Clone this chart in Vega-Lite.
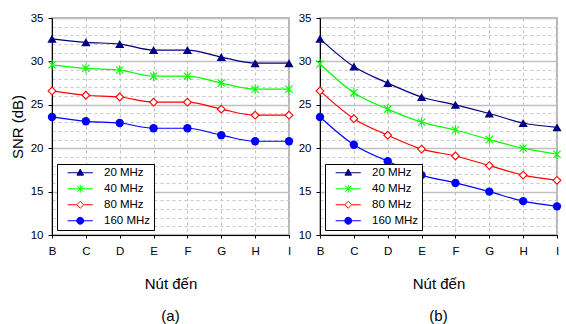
{
  "$schema": "https://vega.github.io/schema/vega-lite/v6.json",
  "padding": {"left": 9, "top": 11, "right": 4, "bottom": 2},
  "spacing": 1,
  "config": {
    "font": "Liberation Sans",
    "view": {"stroke": "#a0a0a0", "strokeWidth": 1.5},
    "axis": {"labelFont": "Liberation Sans", "labelFontSize": 11.5, "labelColor": "#000000", "tickColor": "#000000", "domainColor": "#000000", "titleFont": "Liberation Sans", "titleFontWeight": "normal", "titleColor": "#000000"},
    "legend": {"labelFont": "Liberation Sans", "labelFontSize": 11.5, "labelColor": "#000000"},
    "title": {"font": "Liberation Sans", "fontWeight": "normal", "fontSize": 15, "color": "#000000"}
  },
  "datasets": {
    "snr": [
      {"panel": "a", "node": "B", "series": "20 MHz", "snr": 32.6},
      {"panel": "a", "node": "C", "series": "20 MHz", "snr": 32.2},
      {"panel": "a", "node": "D", "series": "20 MHz", "snr": 32.0},
      {"panel": "a", "node": "E", "series": "20 MHz", "snr": 31.3},
      {"panel": "a", "node": "F", "series": "20 MHz", "snr": 31.3},
      {"panel": "a", "node": "G", "series": "20 MHz", "snr": 30.5},
      {"panel": "a", "node": "H", "series": "20 MHz", "snr": 29.8},
      {"panel": "a", "node": "I", "series": "20 MHz", "snr": 29.8},
      {"panel": "a", "node": "B", "series": "40 MHz", "snr": 29.6},
      {"panel": "a", "node": "C", "series": "40 MHz", "snr": 29.2},
      {"panel": "a", "node": "D", "series": "40 MHz", "snr": 29.0},
      {"panel": "a", "node": "E", "series": "40 MHz", "snr": 28.3},
      {"panel": "a", "node": "F", "series": "40 MHz", "snr": 28.3},
      {"panel": "a", "node": "G", "series": "40 MHz", "snr": 27.5},
      {"panel": "a", "node": "H", "series": "40 MHz", "snr": 26.8},
      {"panel": "a", "node": "I", "series": "40 MHz", "snr": 26.8},
      {"panel": "a", "node": "B", "series": "80 MHz", "snr": 26.6},
      {"panel": "a", "node": "C", "series": "80 MHz", "snr": 26.1},
      {"panel": "a", "node": "D", "series": "80 MHz", "snr": 25.9},
      {"panel": "a", "node": "E", "series": "80 MHz", "snr": 25.3},
      {"panel": "a", "node": "F", "series": "80 MHz", "snr": 25.3},
      {"panel": "a", "node": "G", "series": "80 MHz", "snr": 24.5},
      {"panel": "a", "node": "H", "series": "80 MHz", "snr": 23.8},
      {"panel": "a", "node": "I", "series": "80 MHz", "snr": 23.8},
      {"panel": "a", "node": "B", "series": "160 MHz", "snr": 23.6},
      {"panel": "a", "node": "C", "series": "160 MHz", "snr": 23.1},
      {"panel": "a", "node": "D", "series": "160 MHz", "snr": 22.9},
      {"panel": "a", "node": "E", "series": "160 MHz", "snr": 22.3},
      {"panel": "a", "node": "F", "series": "160 MHz", "snr": 22.3},
      {"panel": "a", "node": "G", "series": "160 MHz", "snr": 21.5},
      {"panel": "a", "node": "H", "series": "160 MHz", "snr": 20.8},
      {"panel": "a", "node": "I", "series": "160 MHz", "snr": 20.8},
      {"panel": "b", "node": "B", "series": "20 MHz", "snr": 32.6},
      {"panel": "b", "node": "C", "series": "20 MHz", "snr": 29.4},
      {"panel": "b", "node": "D", "series": "20 MHz", "snr": 27.5},
      {"panel": "b", "node": "E", "series": "20 MHz", "snr": 25.9},
      {"panel": "b", "node": "F", "series": "20 MHz", "snr": 25.0},
      {"panel": "b", "node": "G", "series": "20 MHz", "snr": 24.0},
      {"panel": "b", "node": "H", "series": "20 MHz", "snr": 22.9},
      {"panel": "b", "node": "I", "series": "20 MHz", "snr": 22.4},
      {"panel": "b", "node": "B", "series": "40 MHz", "snr": 29.7},
      {"panel": "b", "node": "C", "series": "40 MHz", "snr": 26.4},
      {"panel": "b", "node": "D", "series": "40 MHz", "snr": 24.5},
      {"panel": "b", "node": "E", "series": "40 MHz", "snr": 23.0},
      {"panel": "b", "node": "F", "series": "40 MHz", "snr": 22.1},
      {"panel": "b", "node": "G", "series": "40 MHz", "snr": 21.0},
      {"panel": "b", "node": "H", "series": "40 MHz", "snr": 20.0},
      {"panel": "b", "node": "I", "series": "40 MHz", "snr": 19.3},
      {"panel": "b", "node": "B", "series": "80 MHz", "snr": 26.6},
      {"panel": "b", "node": "C", "series": "80 MHz", "snr": 23.4},
      {"panel": "b", "node": "D", "series": "80 MHz", "snr": 21.5},
      {"panel": "b", "node": "E", "series": "80 MHz", "snr": 19.9},
      {"panel": "b", "node": "F", "series": "80 MHz", "snr": 19.1},
      {"panel": "b", "node": "G", "series": "80 MHz", "snr": 18.0},
      {"panel": "b", "node": "H", "series": "80 MHz", "snr": 16.9},
      {"panel": "b", "node": "I", "series": "80 MHz", "snr": 16.3},
      {"panel": "b", "node": "B", "series": "160 MHz", "snr": 23.6},
      {"panel": "b", "node": "C", "series": "160 MHz", "snr": 20.4},
      {"panel": "b", "node": "D", "series": "160 MHz", "snr": 18.5},
      {"panel": "b", "node": "E", "series": "160 MHz", "snr": 16.9},
      {"panel": "b", "node": "F", "series": "160 MHz", "snr": 16.0},
      {"panel": "b", "node": "G", "series": "160 MHz", "snr": 15.0},
      {"panel": "b", "node": "H", "series": "160 MHz", "snr": 13.9},
      {"panel": "b", "node": "I", "series": "160 MHz", "snr": 13.3}
    ]
  },
  "hconcat": [
    {
      "width": 237,
      "height": 217,
      "data": {"name": "snr"},
      "transform": [{"filter": "datum.panel === 'a'"}],
      "title": {"text": "(a)", "orient": "bottom", "offset": 17},
      "layer": [
        {
          "mark": {"type": "line", "interpolate": "monotone", "strokeWidth": 1.2},
          "encoding": {
            "x": {"field": "node", "type": "ordinal", "scale": {"type": "point", "padding": 0}, "axis": {"title": "Nút đến", "titleFontSize": 15, "titlePadding": 20, "labelAngle": 0, "tickSize": 3, "labelPadding": 7, "grid": true, "gridDash": [3, 3], "gridColor": "#c0c0c0", "gridWidth": 1}},
            "y": {"field": "snr", "type": "quantitative", "scale": {"domain": [10, 35], "nice": false, "zero": false}, "axis": {"title": "SNR (dB)", "titleFontSize": 15, "titlePadding": 5, "values": [10, 15, 20, 25, 30, 35], "tickSize": 4, "labelPadding": 5, "grid": true, "gridColor": "#c0c0c0", "gridWidth": 1.4}},
            "stroke": {"field": "series", "type": "nominal", "scale": {"domain": ["20 MHz", "40 MHz", "80 MHz", "160 MHz"], "range": ["#000080", "#00ff00", "#ff0000", "#0000ff"]}, "legend": null}
          }
        },
        {
          "transform": [{"filter": "datum.series === '20 MHz'"}],
          "mark": {"type": "point", "shape": "triangle-up", "size": 85, "filled": true, "color": "#000080", "opacity": 1},
          "encoding": {"x": {"field": "node", "type": "ordinal"}, "y": {"field": "snr", "type": "quantitative", "axis": null}}
        },
        {
          "transform": [{"filter": "datum.series === '40 MHz'"}],
          "mark": {"type": "point", "shape": "M-0.85,-0.85L0.85,0.85M-0.85,0.85L0.85,-0.85M0,-1.15L0,1.15", "size": 72, "filled": false, "color": "#00ff00", "strokeWidth": 1.1, "opacity": 1},
          "encoding": {"x": {"field": "node", "type": "ordinal"}, "y": {"field": "snr", "type": "quantitative", "axis": null}}
        },
        {
          "transform": [{"filter": "datum.series === '80 MHz'"}],
          "mark": {"type": "point", "shape": "diamond", "size": 60, "fill": "#ffffff", "stroke": "#ff0000", "strokeWidth": 1.1, "opacity": 1},
          "encoding": {"x": {"field": "node", "type": "ordinal"}, "y": {"field": "snr", "type": "quantitative", "axis": null}}
        },
        {
          "transform": [{"filter": "datum.series === '160 MHz'"}],
          "mark": {"type": "point", "shape": "circle", "size": 70, "filled": true, "color": "#0000ff", "opacity": 1},
          "encoding": {"x": {"field": "node", "type": "ordinal"}, "y": {"field": "snr", "type": "quantitative", "axis": null}}
        },
        {
          "mark": {"type": "point", "size": 0, "strokeWidth": 1, "opacity": 1},
          "encoding": {
            "x": {"field": "node", "type": "ordinal"},
            "y": {"field": "snr", "type": "quantitative", "axis": {"orient": "left", "title": null, "labels": false, "ticks": false, "domain": false, "values": [11, 12, 13, 14, 16, 17, 18, 19, 21, 22, 23, 24, 26, 27, 28, 29, 31, 32, 33, 34], "grid": true, "gridDash": [3, 3], "gridColor": "#c8c8c8", "gridWidth": 1}},
            "stroke": {"field": "series", "type": "nominal"},
            "fill": {"field": "series", "type": "nominal", "scale": {"domain": ["20 MHz", "40 MHz", "80 MHz", "160 MHz"], "range": ["#000080", "#00ff00", "#ffffff", "#0000ff"]}},
            "shape": {"field": "series", "type": "nominal", "scale": {"domain": ["20 MHz", "40 MHz", "80 MHz", "160 MHz"], "range": ["M0.63,0L9.03,0M4.83,-1.2L5.93,0.8L3.73,0.8Z", "M0.63,0L9.03,0M3.83,-1L5.83,1M3.83,1L5.83,-1M4.83,-1.35L4.83,1.35", "M0.63,0L3.68,0M5.98,0L9.03,0M3.68,0L4.83,-1.15L5.98,0L4.83,1.15Z", "M0.63,0L9.03,0M5.98,0A1.15,1.15,0,1,1,3.68,0A1.15,1.15,0,1,1,5.98,0Z"]}, "legend": {"title": null, "orient": "bottom-left", "offset": 5, "padding": 3, "columnPadding": 0, "symbolSize": 36, "symbolOffset": 0, "labelOffset": 32.5, "rowPadding": 3, "strokeColor": "#000000", "fillColor": "#ffffff", "symbolStrokeWidth": 1}}
          }
        }
      ],
      "resolve": {"axis": {"y": "independent"}, "legend": {"stroke": "independent", "fill": "independent", "shape": "independent"}}
    },
    {
      "width": 237,
      "height": 217,
      "data": {"name": "snr"},
      "transform": [{"filter": "datum.panel === 'b'"}],
      "title": {"text": "(b)", "orient": "bottom", "offset": 17},
      "layer": [
        {
          "mark": {"type": "line", "interpolate": "monotone", "strokeWidth": 1.2},
          "encoding": {
            "x": {"field": "node", "type": "ordinal", "scale": {"type": "point", "padding": 0}, "axis": {"title": "Nút đến", "titleFontSize": 15, "titlePadding": 20, "labelAngle": 0, "tickSize": 3, "labelPadding": 7, "grid": true, "gridDash": [3, 3], "gridColor": "#c0c0c0", "gridWidth": 1}},
            "y": {"field": "snr", "type": "quantitative", "scale": {"domain": [10, 35], "nice": false, "zero": false}, "axis": {"title": null, "values": [10, 15, 20, 25, 30, 35], "tickSize": 4, "labelPadding": 5, "grid": true, "gridColor": "#c0c0c0", "gridWidth": 1.4}},
            "stroke": {"field": "series", "type": "nominal", "scale": {"domain": ["20 MHz", "40 MHz", "80 MHz", "160 MHz"], "range": ["#000080", "#00ff00", "#ff0000", "#0000ff"]}, "legend": null}
          }
        },
        {
          "transform": [{"filter": "datum.series === '20 MHz'"}],
          "mark": {"type": "point", "shape": "triangle-up", "size": 85, "filled": true, "color": "#000080", "opacity": 1},
          "encoding": {"x": {"field": "node", "type": "ordinal"}, "y": {"field": "snr", "type": "quantitative", "axis": null}}
        },
        {
          "transform": [{"filter": "datum.series === '40 MHz'"}],
          "mark": {"type": "point", "shape": "M-0.85,-0.85L0.85,0.85M-0.85,0.85L0.85,-0.85M0,-1.15L0,1.15", "size": 72, "filled": false, "color": "#00ff00", "strokeWidth": 1.1, "opacity": 1},
          "encoding": {"x": {"field": "node", "type": "ordinal"}, "y": {"field": "snr", "type": "quantitative", "axis": null}}
        },
        {
          "transform": [{"filter": "datum.series === '80 MHz'"}],
          "mark": {"type": "point", "shape": "diamond", "size": 60, "fill": "#ffffff", "stroke": "#ff0000", "strokeWidth": 1.1, "opacity": 1},
          "encoding": {"x": {"field": "node", "type": "ordinal"}, "y": {"field": "snr", "type": "quantitative", "axis": null}}
        },
        {
          "transform": [{"filter": "datum.series === '160 MHz'"}],
          "mark": {"type": "point", "shape": "circle", "size": 70, "filled": true, "color": "#0000ff", "opacity": 1},
          "encoding": {"x": {"field": "node", "type": "ordinal"}, "y": {"field": "snr", "type": "quantitative", "axis": null}}
        },
        {
          "mark": {"type": "point", "size": 0, "strokeWidth": 1, "opacity": 1},
          "encoding": {
            "x": {"field": "node", "type": "ordinal"},
            "y": {"field": "snr", "type": "quantitative", "axis": {"orient": "left", "title": null, "labels": false, "ticks": false, "domain": false, "values": [11, 12, 13, 14, 16, 17, 18, 19, 21, 22, 23, 24, 26, 27, 28, 29, 31, 32, 33, 34], "grid": true, "gridDash": [3, 3], "gridColor": "#c8c8c8", "gridWidth": 1}},
            "stroke": {"field": "series", "type": "nominal"},
            "fill": {"field": "series", "type": "nominal", "scale": {"domain": ["20 MHz", "40 MHz", "80 MHz", "160 MHz"], "range": ["#000080", "#00ff00", "#ffffff", "#0000ff"]}},
            "shape": {"field": "series", "type": "nominal", "scale": {"domain": ["20 MHz", "40 MHz", "80 MHz", "160 MHz"], "range": ["M0.63,0L9.03,0M4.83,-1.2L5.93,0.8L3.73,0.8Z", "M0.63,0L9.03,0M3.83,-1L5.83,1M3.83,1L5.83,-1M4.83,-1.35L4.83,1.35", "M0.63,0L3.68,0M5.98,0L9.03,0M3.68,0L4.83,-1.15L5.98,0L4.83,1.15Z", "M0.63,0L9.03,0M5.98,0A1.15,1.15,0,1,1,3.68,0A1.15,1.15,0,1,1,5.98,0Z"]}, "legend": {"title": null, "orient": "bottom-left", "offset": 5, "padding": 3, "columnPadding": 0, "symbolSize": 36, "symbolOffset": 0, "labelOffset": 32.5, "rowPadding": 3, "strokeColor": "#000000", "fillColor": "#ffffff", "symbolStrokeWidth": 1}}
          }
        }
      ],
      "resolve": {"axis": {"y": "independent"}, "legend": {"stroke": "independent", "fill": "independent", "shape": "independent"}}
    }
  ]
}
